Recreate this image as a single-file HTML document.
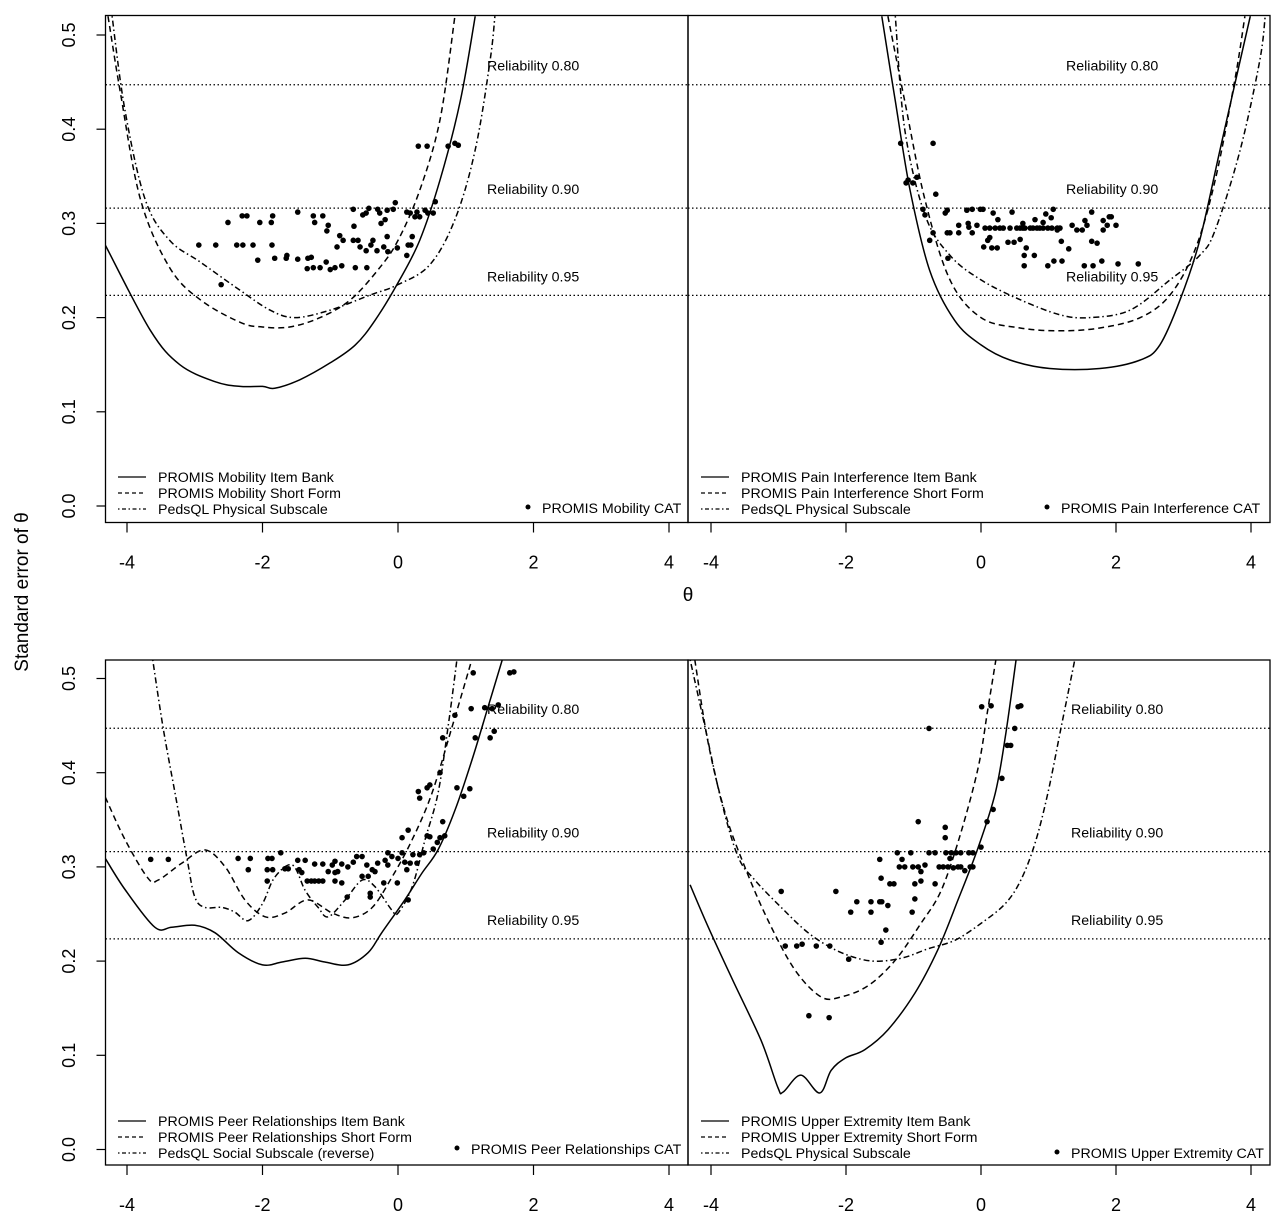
<!DOCTYPE html>
<html><head><meta charset="utf-8"><style>
body{margin:0;background:#fff;}
svg{display:block;font-family:"Liberation Sans",Arial,sans-serif;}
</style></head><body>
<svg id="chart" width="1280" height="1217" viewBox="0 0 1280 1217" xmlns="http://www.w3.org/2000/svg">
<rect width="1280" height="1217" fill="#fff"/>
</svg>
<script>
// ---- Data (theta, SE) ----
const mobBankX=[-4.32,-3.66,-3.22,-2.70,-2.33,-2.0,-1.82,-1.45,-1.0,-0.63,-0.34,0,0.32,0.62,0.92,1.14];
const mobBankY=[0.277,0.187,0.150,0.132,0.127,0.127,0.125,0.134,0.152,0.171,0.197,0.237,0.282,0.346,0.430,0.52];
const mobSFX=[-4.28,-4.1,-3.8,-3.37,-2.92,-2.33,-2.0,-1.6,-1.15,-0.7,-0.27,0,0.32,0.62,0.84];
const mobSFY=[0.52,0.44,0.325,0.253,0.219,0.195,0.19,0.19,0.2,0.219,0.253,0.282,0.335,0.41,0.52];
const mobPQX=[-4.22,-4.03,-3.73,-3.37,-2.92,-2.33,-1.89,-1.52,-1.0,-0.41,0,0.47,0.84,1.14,1.36,1.43];
const mobPQY=[0.52,0.42,0.325,0.282,0.259,0.229,0.208,0.2,0.208,0.224,0.235,0.256,0.304,0.378,0.473,0.52];
const mobCatX=[0.30,0.43,0.74,0.84,0.89,-0.04,-0.66,-0.43,-0.30,-0.16,-0.07,-1.48,-2.30,-2.23,-1.85,-1.25,-1.11,-2.51,-2.04,-1.87,-1.23,-1.03,-1.05,-0.52,-0.47,-0.27,-0.19,-0.25,0.13,0.18,0.28,0.25,0.32,0.40,0.44,0.52,0.55,-0.65,-0.86,-0.81,-0.66,-0.59,-0.37,-0.16,0.21,-2.94,-2.69,-2.38,-2.29,-2.14,-1.86,-0.90,-0.56,-0.47,-0.40,-0.31,-0.21,-0.15,-0.01,0.15,0.19,0.13,-2.07,-1.82,-1.65,-1.64,-1.48,-1.33,-1.28,-1.34,-1.25,-1.15,-1.06,-1.00,-0.93,-0.83,-0.63,-0.46,-2.61];
const mobCatY=[0.382,0.382,0.382,0.385,0.383,0.322,0.315,0.316,0.315,0.314,0.315,0.312,0.308,0.308,0.308,0.308,0.308,0.301,0.301,0.301,0.301,0.298,0.292,0.309,0.311,0.311,0.304,0.300,0.312,0.311,0.312,0.307,0.307,0.314,0.311,0.311,0.323,0.297,0.287,0.282,0.282,0.282,0.282,0.286,0.286,0.277,0.277,0.277,0.277,0.277,0.277,0.275,0.275,0.271,0.277,0.271,0.275,0.270,0.274,0.277,0.277,0.266,0.261,0.263,0.263,0.266,0.262,0.263,0.264,0.252,0.253,0.253,0.259,0.251,0.253,0.255,0.253,0.253,0.235];

const painBankX=[-1.47,-1.27,-1.05,-0.76,-0.39,0,0.43,1.02,1.76,2.36,2.65,2.95,3.24,3.54,3.84,3.99];
const painBankY=[0.52,0.43,0.335,0.25,0.197,0.171,0.155,0.146,0.146,0.155,0.171,0.219,0.282,0.378,0.473,0.52];
const painSFX=[-1.38,-1.13,-0.83,-0.46,0,0.58,1.17,1.76,2.36,2.8,3.17,3.47,3.76,3.91];
const painSFY=[0.52,0.43,0.325,0.24,0.2,0.189,0.186,0.189,0.2,0.224,0.272,0.346,0.452,0.52];
const painPQX=[-1.27,-1.13,-0.83,-0.46,0,0.58,1.17,1.61,2.21,2.8,3.24,3.47,3.84,4.13,4.21];
const painPQY=[0.52,0.4,0.309,0.266,0.24,0.219,0.203,0.2,0.208,0.24,0.266,0.293,0.378,0.473,0.52];
const painCatX=[-1.19,-0.71,-1.11,-1.08,-1.01,-0.95,-0.67,-0.86,-0.83,-0.50,-0.53,-0.21,-0.13,-0.01,0.03,0.18,0.46,0.96,1.07,1.04,1.64,-0.71,-0.76,-0.50,-0.46,-0.33,-0.33,-0.19,-0.18,-0.13,-0.06,0.06,0.13,0.21,0.28,0.33,0.43,0.53,0.58,0.62,0.65,0.73,0.77,0.83,0.87,0.92,0.99,1.05,1.13,1.17,0.25,0.62,0.80,0.92,1.35,1.42,1.50,1.54,1.57,1.81,1.87,1.90,1.93,2.00,1.81,1.13,0.10,0.13,0.04,0.16,0.24,0.40,0.49,0.58,0.67,0.64,0.79,0.64,0.99,1.08,1.20,1.19,1.30,1.64,1.72,1.53,1.66,1.79,2.03,2.33,-0.49];
const painCatY=[0.385,0.385,0.343,0.346,0.343,0.349,0.331,0.315,0.309,0.314,0.311,0.314,0.315,0.315,0.315,0.311,0.312,0.310,0.315,0.306,0.312,0.290,0.282,0.290,0.290,0.298,0.290,0.300,0.296,0.290,0.298,0.295,0.295,0.295,0.295,0.295,0.295,0.295,0.295,0.295,0.295,0.295,0.295,0.295,0.295,0.295,0.295,0.295,0.295,0.295,0.304,0.300,0.304,0.301,0.298,0.293,0.293,0.303,0.298,0.303,0.298,0.307,0.307,0.298,0.293,0.293,0.282,0.285,0.275,0.274,0.274,0.280,0.280,0.283,0.274,0.266,0.266,0.255,0.255,0.260,0.260,0.281,0.273,0.281,0.279,0.255,0.255,0.260,0.257,0.257,0.263];

const peerBankX=[-4.32,-4.03,-3.59,-3.34,-3.0,-2.70,-2.36,-2.0,-1.71,-1.37,-1.08,-0.74,-0.44,-0.24,0.10,0.35,0.59,0.84,1.09,1.33,1.54];
const peerBankY=[0.309,0.276,0.236,0.236,0.238,0.230,0.209,0.196,0.199,0.203,0.199,0.196,0.209,0.230,0.265,0.293,0.318,0.360,0.413,0.470,0.52];
const peerSFX=[-4.32,-4.03,-3.69,-3.54,-3.19,-2.85,-2.55,-2.26,-1.96,-1.67,-1.33,-0.97,-0.68,-0.38,-0.09,0.21,0.50,0.80,1.09];
const peerSFY=[0.374,0.329,0.288,0.286,0.304,0.318,0.300,0.265,0.247,0.251,0.265,0.251,0.246,0.257,0.289,0.329,0.378,0.449,0.52];
const peerPQX=[-3.62,-3.47,-3.29,-3.11,-3.0,-2.85,-2.6,-2.41,-2.21,-2.0,-1.82,-1.56,-1.37,-1.18,-1.03,-0.78,-0.53,-0.34,-0.09,0,0.21,0.40,0.59,0.74,0.87];
const peerPQY=[0.52,0.449,0.378,0.307,0.268,0.257,0.257,0.252,0.243,0.261,0.289,0.302,0.275,0.257,0.247,0.265,0.286,0.279,0.254,0.251,0.279,0.329,0.378,0.449,0.52];
const peerCatX=[-3.65,-3.39,-2.36,-2.18,-1.92,-1.86,-1.73,-2.21,-1.93,-1.85,-1.93,-1.67,-1.62,-1.48,-1.37,-1.46,-1.42,-1.34,-1.28,-1.23,-1.17,-1.11,-1.23,-1.11,-1.03,-0.93,-0.97,-0.93,-0.89,-0.83,-0.74,-0.66,-0.61,-0.53,-0.93,-0.83,-0.75,-0.53,-0.44,-0.46,-0.38,-0.41,-0.41,-0.34,-0.30,-0.19,-0.15,-0.15,-0.09,-0.21,-0.01,0,0.06,0.10,0.13,0.18,0.22,0.28,0.32,0.38,0.15,0.06,0.15,0.43,0.47,0.52,0.58,0.62,0.69,0.66,0.62,0.30,0.32,0.43,0.47,0.66,0.84,0.87,0.97,1.06,1.08,1.14,1.28,1.36,1.42,1.48,1.11,1.65,1.71,1.39];
const peerCatY=[0.308,0.308,0.309,0.309,0.309,0.309,0.315,0.297,0.297,0.297,0.285,0.298,0.298,0.307,0.307,0.297,0.294,0.285,0.285,0.285,0.285,0.285,0.303,0.303,0.295,0.306,0.302,0.294,0.295,0.303,0.300,0.305,0.311,0.311,0.285,0.283,0.268,0.290,0.290,0.302,0.297,0.272,0.268,0.295,0.304,0.307,0.315,0.302,0.311,0.283,0.283,0.309,0.315,0.305,0.297,0.304,0.313,0.304,0.313,0.315,0.265,0.331,0.339,0.333,0.332,0.319,0.326,0.331,0.333,0.348,0.400,0.380,0.373,0.384,0.387,0.437,0.461,0.384,0.375,0.383,0.468,0.437,0.469,0.437,0.444,0.472,0.506,0.506,0.507,0.468];

const ueBankX=[-4.31,-4.04,-3.70,-3.26,-3.01,-2.93,-2.67,-2.39,-2.22,-2.01,-1.72,-1.38,-0.98,-0.64,-0.34,-0.04,0.21,0.36,0.52];
const ueBankY=[0.281,0.236,0.183,0.116,0.066,0.061,0.079,0.060,0.084,0.097,0.106,0.127,0.166,0.212,0.265,0.321,0.378,0.438,0.52];
const ueSFX=[-4.24,-4.04,-3.79,-3.50,-3.16,-2.76,-2.37,-2.07,-1.67,-1.27,-0.89,-0.59,-0.30,-0.04,0.10,0.22];
const ueSFY=[0.52,0.431,0.357,0.300,0.244,0.191,0.162,0.162,0.174,0.201,0.240,0.275,0.336,0.406,0.467,0.52];
const uePQX=[-4.31,-4.09,-3.85,-3.60,-3.35,-2.96,-2.56,-2.16,-1.78,-1.48,-1.13,-0.79,-0.39,0,0.36,0.59,0.80,0.99,1.19,1.39];
const uePQY=[0.52,0.449,0.371,0.311,0.286,0.257,0.230,0.212,0.202,0.200,0.204,0.213,0.222,0.240,0.261,0.286,0.325,0.378,0.449,0.52];
const ueCatX=[0.01,0.15,0.55,0.59,-0.77,0.50,0.39,0.44,0.31,0.18,0.09,0,-0.93,-0.53,-0.53,-1.50,-1.24,-1.04,-0.77,-0.68,-0.52,-0.44,-0.37,-0.30,-0.18,-0.12,-1.17,-1.21,-1.13,-1.01,-0.93,-0.83,-0.89,-0.62,-0.56,-0.49,-0.41,-0.34,-0.30,-0.24,-0.16,-0.12,-0.46,-1.48,-1.35,-1.29,-0.98,-0.89,-0.68,-2.96,-2.15,-1.84,-1.63,-1.50,-1.47,-1.38,-0.98,-1.93,-1.63,-1.02,-1.41,-1.48,-2.90,-2.73,-2.65,-2.44,-2.24,-1.96,-2.55,-2.25];
const ueCatY=[0.470,0.471,0.470,0.471,0.447,0.447,0.429,0.429,0.394,0.361,0.348,0.321,0.348,0.342,0.331,0.308,0.315,0.315,0.315,0.315,0.315,0.315,0.315,0.315,0.315,0.315,0.308,0.300,0.300,0.300,0.300,0.302,0.295,0.300,0.300,0.300,0.299,0.300,0.300,0.296,0.300,0.300,0.309,0.288,0.282,0.282,0.282,0.285,0.282,0.274,0.274,0.263,0.263,0.263,0.263,0.259,0.266,0.252,0.252,0.252,0.233,0.220,0.216,0.216,0.218,0.216,0.216,0.202,0.142,0.140];

const xTicks=[-4,-2,0,2,4];
const yTicks=[0,0.1,0.2,0.3,0.4,0.5];
const yTickLabels=["0.0","0.1","0.2","0.3","0.4","0.5"];
const reliabilities=[0.80,0.90,0.95];

// ---- Panels ----
const NS="http://www.w3.org/2000/svg";
const svg=document.getElementById('chart');
function el(tag,attrs,parent){const e=document.createElementNS(NS,tag);for(const k in attrs)e.setAttribute(k,attrs[k]);(parent||svg).appendChild(e);return e;}
const defs=el('defs',{});

const panels=[
 {key:'mobility',x0:105.5,x1:688,y0:15.5,y1:522.5,zx:398,kx:67.75,zy:506,ky:942,yAxis:true,relX:487,
  series:[[mobBankX,mobBankY,'none'],[mobSFX,mobSFY,'6,4'],[mobPQX,mobPQY,'1.5,3,6,3']],cat:[mobCatX,mobCatY],
  legend:['PROMIS Mobility Item Bank','PROMIS Mobility Short Form','PedsQL Physical Subscale'],lx:118,ly:477,catLabel:'PROMIS Mobility CAT',cx:528,cy:508},
 {key:'pain',x0:688,x1:1270,y0:15.5,y1:522.5,zx:981,kx:67.5,zy:506,ky:942,yAxis:false,relX:1066,
  series:[[painBankX,painBankY,'none'],[painSFX,painSFY,'6,4'],[painPQX,painPQY,'1.5,3,6,3']],cat:[painCatX,painCatY],
  legend:['PROMIS Pain Interference Item Bank','PROMIS Pain Interference Short Form','PedsQL Physical Subscale'],lx:701,ly:477,catLabel:'PROMIS Pain Interference CAT',cx:1047,cy:508},
 {key:'peer',x0:105.5,x1:688,y0:660,y1:1165,zx:398,kx:67.75,zy:1149.5,ky:942,yAxis:true,relX:487,
  series:[[peerBankX,peerBankY,'none'],[peerSFX,peerSFY,'6,4'],[peerPQX,peerPQY,'1.5,3,6,3']],cat:[peerCatX,peerCatY],
  legend:['PROMIS Peer Relationships Item Bank','PROMIS Peer Relationships Short Form','PedsQL Social Subscale (reverse)'],lx:118,ly:1121,catLabel:'PROMIS Peer Relationships CAT',cx:457,cy:1149},
 {key:'upper-extremity',x0:688,x1:1270,y0:660,y1:1165,zx:981,kx:67.5,zy:1149.5,ky:942,yAxis:false,relX:1071,
  series:[[ueBankX,ueBankY,'none'],[ueSFX,ueSFY,'6,4'],[uePQX,uePQY,'1.5,3,6,3']],cat:[ueCatX,ueCatY],
  legend:['PROMIS Upper Extremity Item Bank','PROMIS Upper Extremity Short Form','PedsQL Physical Subscale'],lx:701,ly:1121,catLabel:'PROMIS Upper Extremity CAT',cx:1057,cy:1153}
];
const seriesNames=['item-bank-curve','short-form-curve','pedsql-curve'];

function smoothPath(pts){
  let d='M'+pts[0][0].toFixed(1)+','+pts[0][1].toFixed(1);
  for(let i=0;i<pts.length-1;i++){
    const p0=pts[Math.max(0,i-1)],p1=pts[i],p2=pts[i+1],p3=pts[Math.min(pts.length-1,i+2)];
    const c1x=p1[0]+(p2[0]-p0[0])/6,c1y=p1[1]+(p2[1]-p0[1])/6;
    const c2x=p2[0]-(p3[0]-p1[0])/6,c2y=p2[1]-(p3[1]-p1[1])/6;
    d+=' C'+c1x.toFixed(1)+','+c1y.toFixed(1)+' '+c2x.toFixed(1)+','+c2y.toFixed(1)+' '+p2[0].toFixed(1)+','+p2[1].toFixed(1);
  }
  return d;
}

panels.forEach((p,pi)=>{
  const X=t=>p.zx+t*p.kx, Y=s=>p.zy-s*p.ky;
  const g=el('g',{});
  
  
  const cp=el('clipPath',{id:'clip'+pi},defs);
  el('rect',{x:p.x0,y:p.y0,width:p.x1-p.x0,height:p.y1-p.y0},cp);
  const inner=el('g',{'clip-path':'url(#clip'+pi+')'},g);
  reliabilities.forEach((r,ri)=>{
    const s=Math.sqrt(1-r);
    const ln=el('line',{x1:p.x0,x2:p.x1,y1:Y(s),y2:Y(s),stroke:'#000','stroke-width':1.2,'stroke-dasharray':'1.5,2.5'},inner);
    
    
    const t=el('text',{x:p.relX,y:Y(s)-14,'font-size':14.2},g);
    t.textContent='Reliability '+r.toFixed(2);
    
    
  });
  p.series.forEach((s,si)=>{
    const pts=s[0].map((t,i)=>[X(t),Y(s[1][i])]);
    const path=el('path',{d:smoothPath(pts),fill:'none',stroke:'#000','stroke-width':1.5,'stroke-dasharray':s[2]},inner);
    
    
  });
  p.cat[0].forEach((t,i)=>{
    const c=el('circle',{cx:X(t),cy:Y(p.cat[1][i]),r:2.8,fill:'#000'},inner);
    
    
  });
  const fr=el('rect',{x:p.x0,y:p.y0,width:p.x1-p.x0,height:p.y1-p.y0,fill:'none',stroke:'#000','stroke-width':1.3},g);
  
  
  xTicks.forEach(t=>{
    el('line',{x1:X(t),x2:X(t),y1:p.y1,y2:p.y1+10,stroke:'#000','stroke-width':1.2},g);
    const tl=el('text',{x:X(t),y:p.y1+46,'font-size':18,'text-anchor':'middle'},g);
    tl.textContent=t<0?'-'+Math.abs(t):String(t);
    
    
  });
  if(p.yAxis){
    yTicks.forEach((v,i)=>{
      el('line',{x1:p.x0-9,x2:p.x0,y1:Y(v),y2:Y(v),stroke:'#000','stroke-width':1.2},g);
      const tl=el('text',{x:0,y:0,'font-size':18,'text-anchor':'middle',transform:'translate(75,'+Y(v)+') rotate(-90)'},g);
      tl.textContent=yTickLabels[i];
      
      
    });
  }
  const lg=el('g',{'font-size':14.2},g);
  
  
  p.legend.forEach((lab,i)=>{
    const yy=p.ly+i*16;
    el('line',{x1:p.lx,x2:p.lx+28,y1:yy,y2:yy,stroke:'#000','stroke-width':1.3,'stroke-dasharray':p.series[i][2]==='none'?'none':(i==1?'4,3':'1.5,2.5,4,2.5')},lg);
    const t=el('text',{x:p.lx+40,y:yy+5},lg);
    t.textContent=lab;
    
    
  });
  el('circle',{cx:p.cx,cy:p.cy-1,r:2.5,fill:'#000'},lg);
  const ct=el('text',{x:p.cx+14,y:p.cy+5},lg);
  ct.textContent=p.catLabel;
  
  
});

const xt=el('text',{x:688,y:601,'font-size':19,'text-anchor':'middle'});
xt.textContent='θ';


const yt=el('text',{x:0,y:0,'font-size':19,'text-anchor':'middle',transform:'translate(28,592) rotate(-90)'});
yt.textContent='Standard error of  θ';


</script>
</body></html>
